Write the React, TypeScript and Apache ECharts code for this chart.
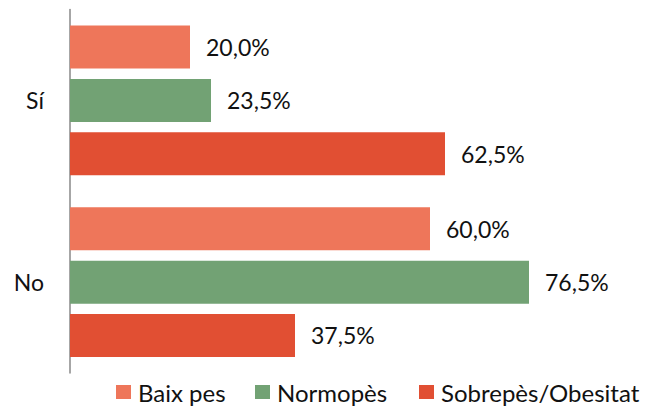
import React, { useEffect, useRef } from "react";
import * as echarts from "echarts";

const categories = ["Sí", "No"];
const seriesNames = ["Baix pes", "Normopès", "Sobrepès/Obesitat"];
const baixPes = [20.0, 60.0];
const normopes = [23.5, 76.5];
const sobrepes = [62.5, 37.5];
const colors = ["#EE765A", "#72A274", "#E14F33"];

const FONT = "Lato";
const FS = 23;
const LEG_FS = 24;
const legendLefts = [116, 255, 419];

export default function App() {
  const ref = useRef<HTMLDivElement>(null);
  useEffect(() => {
    if (!ref.current) return;
    const chart = echarts.init(ref.current, null, { renderer: "svg" });
    const values = [baixPes, normopes, sobrepes];
    chart.setOption({
      animation: false,
      textStyle: { fontFamily: FONT },
      grid: { left: 70, top: 9.5, width: 540, bottom: 33, containLabel: false },
      xAxis: {
        type: "value",
        min: 0,
        max: 90,
        show: false,
      },
      yAxis: {
        type: "category",
        data: categories,
        inverse: true,
        axisLine: { show: true, lineStyle: { color: "#898989", width: 1.5 } },
        axisTick: { show: false },
        axisLabel: { color: "#111", fontSize: FS, fontFamily: FONT, margin: 26 },
        splitLine: { show: false },
      },
      legend: seriesNames.map((name, i) => ({
        left: legendLefts[i],
        top: 380,
        padding: 0,
        icon: "rect",
        itemWidth: 15,
        itemHeight: 14,
        textStyle: { color: "#111", fontSize: LEG_FS, fontFamily: FONT, padding: [0, 0, 0, 2], lineHeight: 24 },
        data: [name],
      })),
      series: seriesNames.map((name, i) => ({
        name,
        type: "bar",
        data: values[i],
        barWidth: 43,
        barGap: "24%",
        itemStyle: { color: colors[i] },
        label: {
          show: true,
          position: "right",
          distance: 16,
          color: "#111",
          fontSize: FS,
          fontFamily: FONT,
          formatter: (p: any) => p.value.toFixed(1).replace(".", ",") + "%",
        },
      })),
    });
    return () => chart.dispose();
  }, []);
  return (
    <div
      ref={ref}
      style={{ position: "fixed", left: 0, top: 0, width: 646, height: 406, background: "#fff" }}
    />
  );
}
